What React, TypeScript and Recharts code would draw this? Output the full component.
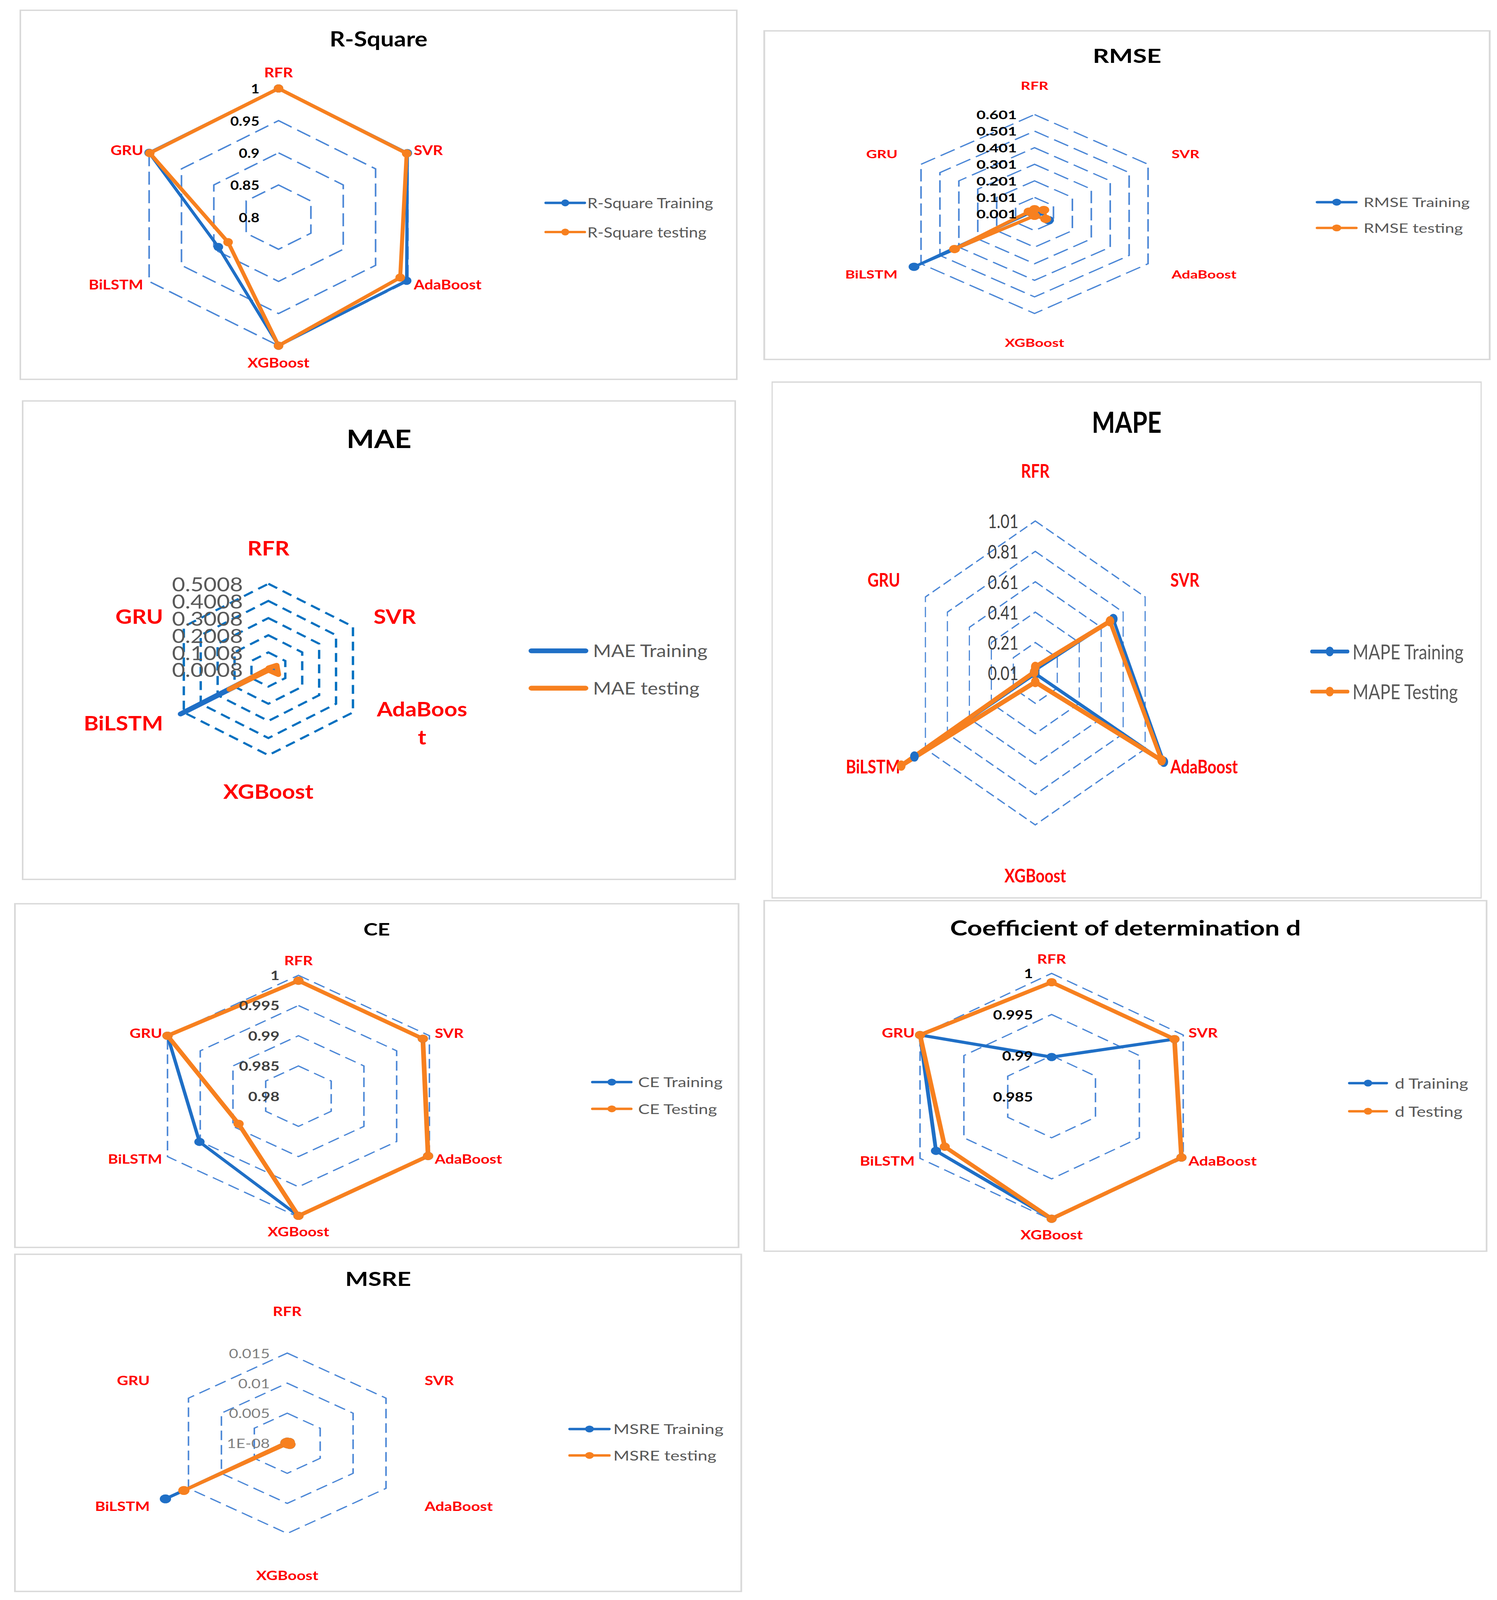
import React, { useState } from 'react'
import {
  RadarChart,
  Radar,
  PolarGrid,
  PolarAngleAxis,
  PolarRadiusAxis,
  Legend,
} from 'recharts'

const FONT = 'Lato, "Open Sans", sans-serif'
const BLUE = '#1F6FC6'
const ORANGE = '#F7801F'
const RED = '#FF0000'
const PAGE_W = 3832
const PAGE_H = 4665

const models = ['RFR', 'SVR', 'AdaBoost', 'XGBoost', 'BiLSTM', 'GRU']

// R-Square
const r2Training = [1.0, 0.999, 0.998, 1.0, 0.893, 1.0]
const r2Testing = [1.0, 0.998, 0.988, 1.0, 0.878, 0.999]
const r2Ticks = [0.8, 0.85, 0.9, 0.95, 1]
const r2TickLabels = ['0.8', '0.85', '0.9', '0.95', '1']

// RMSE
const rmseTraining = [0.02, 0.03, 0.075, 0.01, 0.638, 0.02]
const rmseTesting = [0.03, 0.05, 0.06, 0.012, 0.424, 0.03]
const rmseTicks = [0.001, 0.101, 0.201, 0.301, 0.401, 0.501, 0.601]
const rmseTickLabels = ['0.001', '0.101', '0.201', '0.301', '0.401', '0.501', '0.601']

// MAE
const maeTraining = [0.005, 0.04, 0.05, 0.003, 0.52, 0.004]
const maeTesting = [0.01, 0.05, 0.06, 0.005, 0.232, 0.005]
const maeTicks = [0.0008, 0.1008, 0.2008, 0.3008, 0.4008, 0.5008]
const maeTickLabels = ['0.0008', '0.1008', '0.2008', '0.3008', '0.4008', '0.5008']

// MAPE
const mapeTraining = [0.03, 0.72, 1.18, 0.015, 1.11, 0.02]
const mapeTesting = [0.05, 0.69, 1.16, 0.07, 1.23, 0.02]
const mapeTicks = [0.01, 0.21, 0.41, 0.61, 0.81, 1.01]
const mapeTickLabels = ['0.01', '0.21', '0.41', '0.61', '0.81', '1.01']

// CE
const ceTraining = [0.9991, 0.999, 0.9998, 0.9998, 0.99512, 1.0]
const ceTesting = [0.9991, 0.999, 0.9998, 0.9998, 0.98915, 1.0]
const ceTicks = [0.98, 0.985, 0.99, 0.995, 1]
const ceTickLabels = ['0.98', '0.985', '0.99', '0.995', '1']

// Coefficient of determination d
const dTraining = [0.98982, 0.999, 0.9998, 0.99985, 0.99818, 1.0]
const dTesting = [0.99892, 0.999, 0.9998, 0.99985, 0.99718, 1.0]
const dTicks = [0.985, 0.99, 0.995, 1]
const dTickLabels = ['0.985', '0.99', '0.995', '1']

// MSRE
const msreTraining = [0.0002, 0.0003, 0.0004, 0.0001, 0.0185, 0.0002]
const msreTesting = [0.0002, 0.0003, 0.0004, 0.0001, 0.0157, 0.0002]
const msreTicks = [1e-8, 0.005, 0.01, 0.015]
const msreTickLabels = ['1E-08', '0.005', '0.01', '0.015']

type Panel = {
  title: string
  names: [string, string]
  training: number[]
  testing: number[]
  ticks: number[]
  tickLabels: string[]
  box: { left: number; top: number; width: number; height: number }
  sx: number
  cx: number
  cy: number
  r: number
  sideR: number
  vertR: number
  titleY: number
  titleSize: number
  labelSize: number
  tickFont: number
  tickColor: string
  tickWeight: number
  tickGap: number
  legend: { x: number; w: number; y1: number; y2: number; gap: number; size: number; stroke: number; dotR: number }
  lineW: [number, number]
  dotR: number
  grid: { color: string; width: number; dash: string }
  wrap?: Record<string, { lines: string[]; half: number; lineH: number }>
}

const panels: Panel[] = [
  {
    title: 'R-Square', names: ['R-Square Training', 'R-Square testing'],
    training: r2Training, testing: r2Testing, ticks: r2Ticks, tickLabels: r2TickLabels,
    box: { left: 50, top: 28, width: 1838, height: 1080 }, sx: 1.02,
    cx: 650, cy: 605, r: 375, sideR: 392, vertR: 423,
    titleY: 84, titleSize: 60, labelSize: 39,
    tickFont: 37, tickColor: '#000', tickWeight: 700, tickGap: 48,
    legend: { x: 1317, w: 105, y1: 563, y2: 648, gap: 3, size: 41, stroke: 7, dotR: 10 },
    lineW: [8, 10], dotR: 12,
    grid: { color: '#4A86D6', width: 4, dash: '38 16' },
  },
  {
    title: 'RMSE', names: ['RMSE Training', 'RMSE testing'],
    training: rmseTraining, testing: rmseTesting, ticks: rmseTicks, tickLabels: rmseTickLabels,
    box: { left: 1954, top: 88, width: 1862, height: 962 }, sx: 1.157,
    cx: 600, cy: 536, r: 290, sideR: 350, vertR: 375,
    titleY: 74, titleSize: 56, labelSize: 33,
    tickFont: 35, tickColor: '#000', tickWeight: 700, tickGap: 39,
    legend: { x: 1222, w: 93, y1: 501, y2: 576, gap: 13, size: 37, stroke: 7, dotR: 10 },
    lineW: [7, 9], dotR: 12,
    grid: { color: '#4A86D6', width: 3.5, dash: '36 14' },
  },
  {
    title: 'MAE', names: ['MAE Training', 'MAE testing'],
    training: maeTraining, testing: maeTesting, ticks: maeTicks, tickLabels: maeTickLabels,
    box: { left: 56, top: 1167, width: 1828, height: 1399 }, sx: 1.0,
    cx: 631, cy: 785, r: 250, sideR: 311, vertR: 355,
    titleY: 111, titleSize: 75, labelSize: 58,
    tickFont: 58, tickColor: '#595959', tickWeight: 400, tickGap: 65,
    legend: { x: 1297, w: 153, y1: 730, y2: 839, gap: 12, size: 50, stroke: 14, dotR: 0 },
    lineW: [14, 14], dotR: 0,
    grid: { color: '#0070C0', width: 6, dash: '26 16' },
    wrap: { AdaBoost: { lines: ['AdaBoos', 't'], half: 124, lineH: 82 } },
  },
  {
    title: 'MAPE', names: ['MAPE Training', 'MAPE Testing'],
    training: mapeTraining, testing: mapeTesting, ticks: mapeTicks, tickLabels: mapeTickLabels,
    box: { left: 1975, top: 1112, width: 1818, height: 1508 }, sx: 0.733,
    cx: 921, cy: 850, r: 443, sideR: 545, vertR: 590,
    titleY: 117, titleSize: 86, labelSize: 54,
    tickFont: 54, tickColor: '#404040', tickWeight: 400, tickGap: 59,
    legend: { x: 1881, w: 137, y1: 787, y2: 904, gap: 11, size: 60, stroke: 11, dotR: 14 },
    lineW: [10, 14], dotR: 15,
    grid: { color: '#4A86D6', width: 4, dash: '30 14' },
  },
  {
    title: 'CE', names: ['CE Training', 'CE Testing'],
    training: ceTraining, testing: ceTesting, ticks: ceTicks, tickLabels: ceTickLabels,
    box: { left: 36, top: 2633, width: 1857, height: 1006 }, sx: 1.098,
    cx: 663, cy: 563, r: 352.5, sideR: 367, vertR: 395,
    titleY: 76, titleSize: 50, labelSize: 36,
    tickFont: 37, tickColor: '#404040', tickWeight: 700, tickGap: 44,
    legend: { x: 1345, w: 97, y1: 522, y2: 600, gap: 13, size: 40, stroke: 7, dotR: 10 },
    lineW: [8, 11], dotR: 12,
    grid: { color: '#4A86D6', width: 3.5, dash: '28 14' },
  },
  {
    title: 'Coefficient of determination d', names: ['d Training', 'd Testing'],
    training: dTraining, testing: dTesting, ticks: dTicks, tickLabels: dTickLabels,
    box: { left: 1954, top: 2624, width: 1854, height: 1026 }, sx: 1.082,
    cx: 682, cy: 573.5, r: 359.5, sideR: 374, vertR: 402,
    titleY: 80, titleSize: 62, labelSize: 37,
    tickFont: 37, tickColor: '#000', tickWeight: 700, tickGap: 44,
    legend: { x: 1383, w: 95, y1: 534, y2: 616, gap: 16, size: 41, stroke: 7, dotR: 10 },
    lineW: [9, 11], dotR: 12,
    grid: { color: '#4A86D6', width: 3.5, dash: '28 14' },
  },
  {
    title: 'MSRE', names: ['MSRE Training', 'MSRE testing'],
    training: msreTraining, testing: msreTesting, ticks: msreTicks, tickLabels: msreTickLabels,
    box: { left: 36, top: 3655, width: 1864, height: 987 }, sx: 1.11,
    cx: 630, cy: 553, r: 263, sideR: 366, vertR: 385,
    titleY: 73, titleSize: 56, labelSize: 36,
    tickFont: 37, tickColor: '#7F7F7F', tickWeight: 400, tickGap: 40,
    legend: { x: 1278, w: 98, y1: 511, y2: 588, gap: 6, size: 40, stroke: 7, dotR: 10 },
    lineW: [8, 9], dotR: 13,
    grid: { color: '#4A86D6', width: 3.5, dash: '28 14' },
  },
]

// linear scale whose domain stays fixed (Excel keeps the axis bounds and lets data run past them)
// eslint-disable-next-line @typescript-eslint/no-explicit-any
function fixedLinearScale(domain: number[], ticks: number[], range: number[] = [0, 1]): any {
  let rng = range.slice()
  // eslint-disable-next-line @typescript-eslint/no-explicit-any
  const scale: any = (v: number) => rng[0] + ((v - domain[0]) / (domain[1] - domain[0])) * (rng[1] - rng[0])
  scale.domain = (d?: number[]) => (d === undefined ? domain.slice() : scale)
  scale.range = (r?: number[]) => {
    if (r === undefined) return rng.slice()
    rng = r.slice()
    return scale
  }
  scale.copy = () => fixedLinearScale(domain, ticks, rng)
  scale.ticks = () => ticks.slice()
  scale.invert = (px: number) => domain[0] + ((px - rng[0]) / (rng[1] - rng[0])) * (domain[1] - domain[0])
  return scale
}

// eslint-disable-next-line @typescript-eslint/no-explicit-any
function AngleTick(props: any) {
  const { x, y, textAnchor, payload, p } = props
  const s = Math.sin(((payload.coordinate ?? 0) * Math.PI) / 180)
  const shift = p.vertR - p.sideR
  const dy = textAnchor === 'middle' ? (s > 0 ? -shift : shift) : 0
  const common = {
    fill: RED, fontWeight: 700, fontSize: p.labelSize, fontFamily: FONT, dominantBaseline: 'central' as const,
  }
  const wrap = p.wrap?.[payload.value]
  if (wrap) {
    return (
      <text x={x + wrap.half} y={y} textAnchor="middle" {...common}>
        {wrap.lines.map((ln: string, i: number) => (
          <tspan key={ln} x={x + wrap.half} dy={i === 0 ? -wrap.lineH / 2 : wrap.lineH}>{ln}</tspan>
        ))}
      </text>
    )
  }
  return (
    <text x={x} y={y + dy} textAnchor={textAnchor} {...common}>{payload.value}</text>
  )
}

// eslint-disable-next-line @typescript-eslint/no-explicit-any
function RadiusTick(props: any) {
  const { x, y, payload, index, p } = props
  const i = p.ticks.findIndex((t: number) => Math.abs(t - payload.value) < 1e-9)
  const label = p.tickLabels[i >= 0 ? i : index]
  return (
    <text
      x={x - p.tickGap}
      y={y}
      textAnchor="end"
      dominantBaseline="central"
      fill={p.tickColor}
      fontWeight={p.tickWeight}
      fontSize={p.tickFont}
      fontFamily={FONT}
    >
      {label}
    </text>
  )
}

function LegendBox({ p }: { p: Panel }) {
  const rowH = p.legend.y2 - p.legend.y1
  const colors = [BLUE, ORANGE]
  return (
    <div style={{ fontFamily: FONT }}>
      {p.names.map((n, i) => (
        <div key={n} style={{ display: 'flex', alignItems: 'center', height: rowH }}>
          <svg width={p.legend.w} height={rowH} style={{ display: 'block', flex: 'none' }}>
            <line
              x1={p.legend.stroke / 2}
              x2={p.legend.w - p.legend.stroke / 2}
              y1={rowH / 2}
              y2={rowH / 2}
              stroke={colors[i]}
              strokeWidth={p.legend.stroke}
              strokeLinecap="round"
            />
            {p.legend.dotR > 0 && <circle cx={p.legend.w / 2} cy={rowH / 2} r={p.legend.dotR} fill={colors[i]} />}
          </svg>
          <span style={{ marginLeft: p.legend.gap, fontSize: p.legend.size, color: '#595959', whiteSpace: 'nowrap', lineHeight: 1 }}>
            {n}
          </span>
        </div>
      ))}
    </div>
  )
}

function RadarPanel({ p }: { p: Panel }) {
  const data = models.map((m, i) => ({ model: m, train: p.training[i], test: p.testing[i] }))
  const w = p.box.width / p.sx
  const h = p.box.height
  const rowH = p.legend.y2 - p.legend.y1
  const domain = [p.ticks[0], p.ticks[p.ticks.length - 1]]
  const dot = (c: string) => (p.dotR > 0 ? { r: p.dotR, fill: c, stroke: c, strokeWidth: 0, fillOpacity: 1 } : false)
  return (
    <div
      style={{
        position: 'absolute', left: p.box.left, top: p.box.top, width: w, height: h,
        transform: `scaleX(${p.sx})`, transformOrigin: '0 0', background: '#fff',
      }}
    >
      <RadarChart width={w} height={h} data={data} cx={p.cx} cy={p.cy} outerRadius={p.r} margin={{ top: 0, right: 0, bottom: 0, left: 0 }}>
        <PolarGrid
          gridType="polygon"
          radialLines={false}
          stroke={p.grid.color}
          strokeWidth={p.grid.width}
          strokeDasharray={p.grid.dash}
        />
        <PolarAngleAxis
          dataKey="model"
          axisLine={false}
          tickLine={false}
          tickSize={p.sideR - p.r}
          tick={(props: object) => <AngleTick {...props} p={p} />}
        />
        <PolarRadiusAxis
          type="number"
          scale={fixedLinearScale(domain, p.ticks)}
          angle={90}
          domain={domain}
          ticks={p.ticks}
          tickCount={p.ticks.length}
          allowDataOverflow
          axisLine={false}
          tick={(props: object) => <RadiusTick {...props} p={p} />}
        />
        <Radar
          name={p.names[0]}
          dataKey="train"
          stroke={BLUE}
          strokeWidth={p.lineW[0]}
          strokeLinejoin="round"
          fill="none"
          dot={dot(BLUE)}
          isAnimationActive={false}
        />
        <Radar
          name={p.names[1]}
          dataKey="test"
          stroke={ORANGE}
          strokeWidth={p.lineW[1]}
          strokeLinejoin="round"
          fill="none"
          dot={dot(ORANGE)}
          isAnimationActive={false}
        />
        <Legend
          layout="vertical"
          align="right"
          verticalAlign="top"
          wrapperStyle={{ left: p.legend.x, top: p.legend.y1 - rowH / 2, right: 'auto', width: 'auto' }}
          content={() => <LegendBox p={p} />}
        />
      </RadarChart>
      <div
        style={{
          position: 'absolute', left: 0, right: 0, top: p.titleY, transform: 'translateY(-50%)',
          textAlign: 'center', fontFamily: FONT, fontWeight: 700, fontSize: p.titleSize, lineHeight: 1, color: '#000',
        }}
      >
        {p.title}
      </div>
      <div style={{ position: 'absolute', inset: 0, border: '4px solid #D9D9D9', boxSizing: 'border-box', pointerEvents: 'none' }} />
    </div>
  )
}

export default function App() {
  // the photographed viewport can be shorter than the page; fit the page into it
  const [vh] = useState(() => (typeof window !== 'undefined' ? window.innerHeight : PAGE_H))
  const sy = vh > 0 && vh < PAGE_H ? vh / PAGE_H : 1
  return (
    <div
      style={{
        position: 'absolute', left: 0, top: 0, width: PAGE_W, height: PAGE_H, background: '#fff', overflow: 'hidden',
        transform: `scaleY(${sy})`, transformOrigin: '0 0',
      }}
    >
      {panels.map((p) => (
        <RadarPanel key={p.title} p={p} />
      ))}
    </div>
  )
}
